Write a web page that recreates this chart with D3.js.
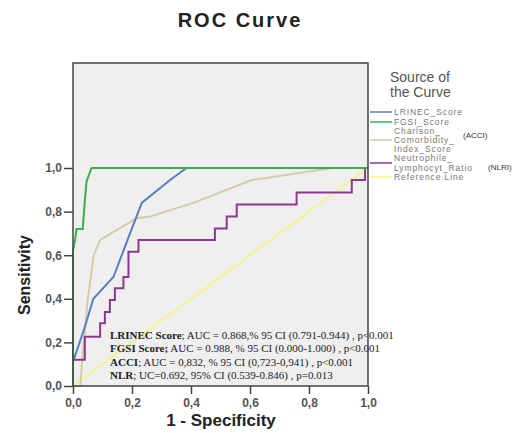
<!DOCTYPE html>
<html>
<head>
<meta charset="utf-8">
<title>ROC Curve</title>
<script src="https://cdnjs.cloudflare.com/ajax/libs/d3/7.8.5/d3.min.js"></script>
<style>
body { margin: 0; background: #fff; }
svg { font-family: "Liberation Sans", Arial, sans-serif; }
.tick text { font-size: 12px; fill: #555; font-weight: bold; }
.tick line { stroke: #444; }
.note { font-family: "Liberation Serif", "Times New Roman", serif; font-size: 11px; fill: #222; }
.leg { font-size: 8.5px; fill: #777; letter-spacing: 0.9px; }
</style>
</head>
<body>
<script>
// ROC points: [1 - specificity, sensitivity]
var lrinec = [[0,0],[0,0.11],[0.01,0.15],[0.04,0.27],[0.069,0.40],[0.137,0.50],[0.185,0.67],[0.233,0.84],[0.329,0.945],[0.385,1],[1,1]];
var fgsi = [[0,0],[0,0.62],[0.007,0.67],[0.012,0.72],[0.033,0.72],[0.04,0.85],[0.046,0.94],[0.063,1],[1,1]];
var acci = [[0,0],[0.025,0],[0.03,0.1],[0.05,0.4],[0.07,0.6],[0.092,0.67],[0.216,0.77],[0.261,0.777],[0.408,0.84],[0.606,0.945],[0.88,1],[1,1]];
var nlr = [[0,0],[0,0.12],[0.04,0.12],[0.04,0.226],[0.092,0.226],[0.092,0.288],[0.108,0.288],[0.108,0.34],[0.125,0.34],[0.125,0.394],[0.142,0.394],[0.142,0.448],[0.171,0.448],[0.171,0.50],[0.188,0.50],[0.188,0.616],[0.222,0.616],[0.222,0.67],[0.481,0.67],[0.481,0.723],[0.521,0.723],[0.521,0.777],[0.555,0.777],[0.555,0.833],[0.758,0.833],[0.758,0.888],[0.945,0.888],[0.945,0.945],[0.99,0.945],[0.99,1],[1,1]];
var refLine = [[0,0],[1,1]];

var ticks = [0, 0.2, 0.4, 0.6, 0.8, 1.0];

var legendNames = [["LRINEC_Score"], ["FGSI_Score"], ["Charlson_", "Comorbidity_", "Index_Score"], ["Neutrophile_", "Lymphocyt_Ratio"], ["Reference Line"]];
var legendTags = ["", "", "(ACCI)", "(NLRI)", ""];
var colors = ["#5b7ec0", "#3dae50", "#d2cda8", "#8a3a8e", "#f6f28c"];

var notes = [
    ["LRINEC Score", "; AUC = 0.868,% 95 CI (0.791-0.944)  , p<0.001"],
    ["FGSI Score;", " AUC = 0.988, % 95 CI (0.000-1.000)  , p<0.001"],
    ["ACCI", "; AUC = 0,832, % 95 CI (0,723-0,941)  , p<0.001"],
    ["NLR", "; UC=0.692, 95% CI (0.539-0.846)  , p=0.013"]
];

var width = 517, height = 433;
var x = d3.scaleLinear().domain([0, 1]).range([73, 368]);
var y = d3.scaleLinear().domain([0, 1]).range([386, 168]);
var frameTop = 63;

var svg = d3.select("body").append("svg")
    .attr("width", width)
    .attr("height", height);

// plot background
svg.append("rect")
    .attr("x", x(0)).attr("y", frameTop)
    .attr("width", x(1) - x(0)).attr("height", y(0) - frameTop)
    .attr("fill", "#efefef");

var line = d3.line()
    .x(function(d) { return x(d[0]); })
    .y(function(d) { return y(d[1]); });

var series = [lrinec, fgsi, acci, nlr, refLine];
var order = [4, 2, 0, 3, 1];
order.forEach(function(i) {
    svg.append("path")
        .attr("d", line(series[i]))
        .attr("fill", "none")
        .attr("stroke", colors[i])
        .attr("stroke-width", 2);
});

// annotation text
var noteG = svg.append("g");
notes.forEach(function(n, i) {
    var t = noteG.append("text")
        .attr("class", "note")
        .attr("x", 110)
        .attr("y", 339 + i * 13.4);
    t.append("tspan").attr("font-weight", "bold").text(n[0]);
    t.append("tspan").text(n[1]);
});

// frame
svg.append("rect")
    .attr("x", x(0)).attr("y", frameTop)
    .attr("width", x(1) - x(0)).attr("height", y(0) - frameTop)
    .attr("fill", "none")
    .attr("stroke", "#444")
    .attr("stroke-width", 1.5);

var fmt = function(d) { return d3.format(".1f")(d).replace(".", ","); };

svg.append("g")
    .attr("transform", "translate(0," + y(0) + ")")
    .call(d3.axisBottom(x).tickValues(ticks).tickFormat(fmt).tickSize(8).tickPadding(4))
    .call(function(g) { g.select(".domain").remove(); });

svg.append("g")
    .attr("transform", "translate(" + x(0) + ",0)")
    .call(d3.axisLeft(y).tickValues(ticks).tickFormat(fmt).tickSize(9).tickPadding(2))
    .call(function(g) { g.select(".domain").remove(); });

svg.selectAll(".tick line").attr("stroke-width", 1.5);

// titles
svg.append("text")
    .attr("x", 240).attr("y", 27)
    .attr("text-anchor", "middle")
    .attr("font-size", 20).attr("font-weight", "bold").attr("fill", "#222")
    .attr("letter-spacing", 2)
    .text("ROC Curve");

svg.append("text")
    .attr("x", 221).attr("y", 426)
    .attr("text-anchor", "middle")
    .attr("font-size", 17).attr("font-weight", "bold").attr("fill", "#222")
    .text("1 - Specificity");

svg.append("text")
    .attr("transform", "translate(30,275) rotate(-90)")
    .attr("text-anchor", "middle")
    .attr("font-size", 16).attr("font-weight", "bold").attr("fill", "#222")
    .text("Sensitivity");

// legend
svg.append("text")
    .attr("x", 390).attr("y", 82)
    .attr("font-size", 14).attr("fill", "#555")
    .selectAll("tspan")
    .data(["Source of", "the Curve"])
    .join("tspan")
    .attr("x", 390)
    .attr("dy", function(d, i) { return i ? 15 : 0; })
    .text(function(d) { return d; });

var legY = [112, 122, 140, 163, 177];
legendNames.forEach(function(lines, i) {
    svg.append("line")
        .attr("x1", 370).attr("x2", 392)
        .attr("y1", legY[i]).attr("y2", legY[i])
        .attr("stroke", colors[i]).attr("stroke-width", 1.5);
    var n = lines.length;
    lines.forEach(function(s, j) {
        svg.append("text")
            .attr("class", "leg")
            .attr("x", 394)
            .attr("y", legY[i] + 3 + (j - (n - 1) / 2) * (i === 3 ? 10 : 9))
            .text(s);
    });
    if (legendTags[i]) {
        svg.append("text")
            .attr("x", i === 2 ? 463 : 488)
            .attr("y", i === 2 ? 138 : 170)
            .attr("font-size", 8).attr("fill", "#333")
            .text(legendTags[i]);
    }
});
</script>
</body>
</html>
